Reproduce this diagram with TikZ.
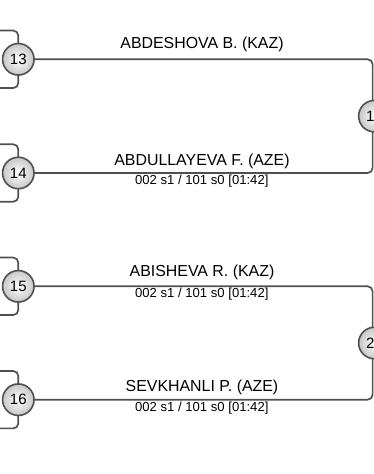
\documentclass[tikz,border=0pt]{standalone}
\usepackage{fontspec}
\setmainfont{Liberation Sans}
\definecolor{lineg}{HTML}{505050}
\tikzset{
  x=1pt,y=1pt,
  seed/.style={circle,draw=lineg,line width=1.6pt,minimum size=31.5pt,inner sep=0pt,
    inner color=white,outer color=black!22,font=\fontsize{15}{15}\selectfont},
  conn/.style={draw=lineg,line width=1.7pt,rounded corners=5pt},
  namelbl/.style={anchor=base,inner sep=0pt,font=\fontsize{15.9}{16}\selectfont},
  scorelbl/.style={anchor=base,inner sep=0pt,font=\fontsize{13.1}{13}\selectfont}
}
\begin{document}
\begin{tikzpicture}
\useasboundingbox (0,0) rectangle (374,474);
% brackets' free ends
\coordinate (b13t) at (0,443.4); \coordinate (b13b) at (0,386.0);
\coordinate (b14t) at (0,329.7); \coordinate (b14b) at (0,272.3);
\coordinate (b15t) at (0,216.4); \coordinate (b15b) at (0,159.0);
\coordinate (b16t) at (0,103.0); \coordinate (b16b) at (0,45.6);
% left bracket lines (behind circles)
\path[conn] (b13t) -| (18.3,414.7) |- (b13b);
\path[conn] (b14t) -| (18.3,301) |- (b14b);
\path[conn] (b15t) -| (18.3,187.7) |- (b15b);
\path[conn] (b16t) -| (18.3,74.3) |- (b16b);
% seed circles
\node[seed] (c13) at (18.3,414.7) {13};
\node[seed] (c14) at (18.3,301) {14};
\node[seed] (c15) at (18.3,187.7) {15};
\node[seed] (c16) at (18.3,74.3) {16};
% connectors to next round
\coordinate (w1p) at (372.6,357.85);
\coordinate (w2p) at (372.6,131);
\path[conn] (c13.east) -| (w1p) |- (c14.east);
\path[conn] (c15.east) -| (w2p) |- (c16.east);
\node[seed] (w1) at (374.4,357.85) {19};
\node[seed] (w2) at (374.4,131) {20};
% labels
\node[namelbl] (n13) at (202,425.2) {ABDESHOVA B. (KAZ)};
\node[namelbl] (n14) at (202,308) {ABDULLAYEVA F. (AZE)};
\node[scorelbl] (s14) at (201.8,289) {002 s1 / 101 s0 [01:42]};
\node[namelbl] (n15) at (202,197.7) {ABISHEVA R. (KAZ)};
\node[scorelbl] (s15) at (201.8,176.2) {002 s1 / 101 s0 [01:42]};
\node[namelbl] (n16) at (202,82) {SEVKHANLI P. (AZE)};
\node[scorelbl] (s16) at (201.8,62.6) {002 s1 / 101 s0 [01:42]};
\end{tikzpicture}
\end{document}
